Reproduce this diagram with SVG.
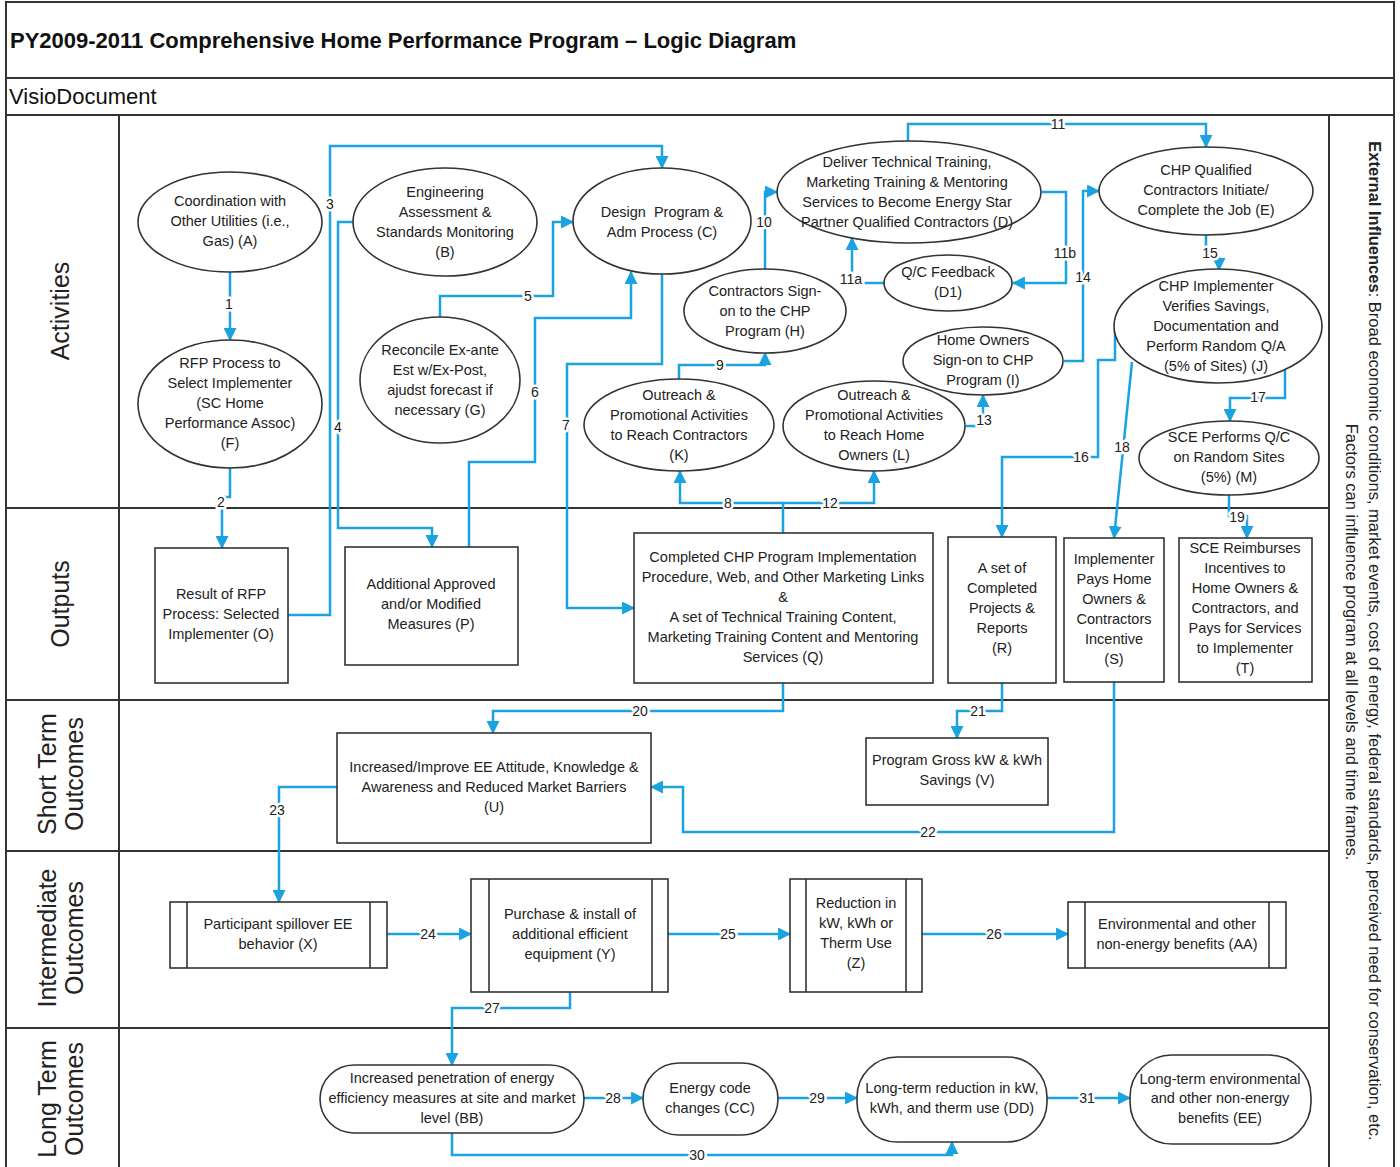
<svg xmlns="http://www.w3.org/2000/svg" width="1400" height="1167" viewBox="0 0 1400 1167">
<defs>
<style>
.frame{fill:none;stroke:#333;stroke-width:2}
.node{fill:#fff;stroke:#333;stroke-width:1.6}
.t{font-family:"Liberation Sans",Arial,sans-serif;font-size:14.5px;fill:#222;text-anchor:middle}
.c{fill:none;stroke:#1aa3e0;stroke-width:2.5;marker-end:url(#ah)}
.lbl{font-family:"Liberation Sans",Arial,sans-serif;font-size:14px;fill:#222;text-anchor:middle;stroke:#fff;stroke-width:5;paint-order:stroke;stroke-linejoin:round}
.lane{font-family:"Liberation Sans",Arial,sans-serif;font-size:25px;fill:#222;text-anchor:middle;dominant-baseline:central}
.ext{font-family:"Liberation Sans",Arial,sans-serif;font-size:16.5px;fill:#222;text-anchor:middle;dominant-baseline:central}
</style>
<marker id="ah" markerUnits="userSpaceOnUse" viewBox="0 0 12 12" refX="11" refY="6" markerWidth="13" markerHeight="13" orient="auto">
<path d="M0,0 L12,6 L0,12 z" fill="#1aa3e0"/>
</marker>
</defs>
<rect x="0" y="0" width="1400" height="1167" fill="#fff"/>

<g id="frame">
<rect class="frame" x="6" y="2" width="1388" height="1175"/>
<line class="frame" x1="6" y1="78" x2="1394" y2="78"/>
<line class="frame" x1="6" y1="115" x2="1394" y2="115"/>
<line class="frame" x1="119" y1="115" x2="119" y2="1167"/>
<line class="frame" x1="1329" y1="115" x2="1329" y2="1167"/>
<line class="frame" x1="6" y1="508" x2="1329" y2="508"/>
<line class="frame" x1="6" y1="700" x2="1329" y2="700"/>
<line class="frame" x1="6" y1="851" x2="1329" y2="851"/>
<line class="frame" x1="6" y1="1028" x2="1329" y2="1028"/>
<text x="10" y="48" font-family="Liberation Sans, Arial, sans-serif" font-size="22" font-weight="bold" fill="#111">PY2009-2011 Comprehensive Home Performance Program – Logic Diagram</text>
<text x="9" y="104" font-family="Liberation Sans, Arial, sans-serif" font-size="22" fill="#111">VisioDocument</text>
<text class="lane" transform="translate(60,311) rotate(-90)">Activities</text>
<text class="lane" transform="translate(60,604) rotate(-90)">Outputs</text>
<text class="lane" transform="translate(47,774) rotate(-90)">Short Term</text>
<text class="lane" transform="translate(74,774) rotate(-90)">Outcomes</text>
<text class="lane" transform="translate(47,938) rotate(-90)">Intermediate</text>
<text class="lane" transform="translate(74,938) rotate(-90)">Outcomes</text>
<text class="lane" transform="translate(47,1099) rotate(-90)">Long Term</text>
<text class="lane" transform="translate(74,1099) rotate(-90)">Outcomes</text>
<text class="ext" transform="translate(1375,641) rotate(90)"><tspan font-weight="bold">External Influences</tspan>: Broad economic conditions, market events, cost of energy, federal standards, perceived need for conservation, etc.</text>
<text class="ext" transform="translate(1352,642) rotate(90)">Factors can influence program at all levels and time frames.</text>
</g>

<g id="connectors">
<path class="c" d="M230,272 V340"/>
<path class="c" d="M230,468 V497 H222 V548"/>
<path class="c" d="M288,615 H330 V146 H662 V168"/>
<path class="c" d="M353,222 H338 V528 H432 V547"/>
<path class="c" d="M440,318 V296 H553 V222 H573"/>
<path class="c" d="M469,547 V462 H535 V318 H631 V272"/>
<path class="c" d="M662,274 V364 H567 V608 H634"/>
<path class="c" d="M783,533 V503 H680 V471"/>
<path class="c" d="M783,503 H874 V471"/>
<path class="c" d="M679,380 V365 H765 V353"/>
<path class="c" d="M765,270 V192 H777"/>
<path class="c" d="M908,141 V124 H1206 V147"/>
<path class="c" d="M884,283 H852 V238"/>
<path class="c" d="M1042,192 H1066 V283 H1013"/>
<path class="c" d="M966,426 H983 V395"/>
<path class="c" d="M1064,361 H1083 V191 H1099"/>
<path class="c" d="M1206,235 V258 H1219 V270"/>
<path class="c" d="M1115,328 V360 H1098 V457 H1002 V537"/>
<path class="c" d="M1285,370 V398 H1230 V421"/>
<path class="c" d="M1132,362 L1114,538"/>
<path class="c" d="M1229,495 V516 H1247 V538"/>
<path class="c" d="M783,683 V711 H493 V733"/>
<path class="c" d="M1002,683 V711 H957 V738"/>
<path class="c" d="M1114,682 V832 H683 V787 H651"/>
<path class="c" d="M337,787 H279 V902"/>
<path class="c" d="M387,934 H471"/>
<path class="c" d="M668,934 H790"/>
<path class="c" d="M922,934 H1068"/>
<path class="c" d="M570,992 V1008 H452 V1065"/>
<path class="c" d="M584,1098 H643"/>
<path class="c" d="M778,1098 H857"/>
<path class="c" d="M452,1133 V1155 H952 V1142"/>
<path class="c" d="M1047,1098 H1130"/>
<text class="lbl" x="229" y="309">1</text>
<text class="lbl" x="221" y="507">2</text>
<text class="lbl" x="330" y="209">3</text>
<text class="lbl" x="338" y="432">4</text>
<text class="lbl" x="528" y="301">5</text>
<text class="lbl" x="535" y="397">6</text>
<text class="lbl" x="566" y="430">7</text>
<text class="lbl" x="728" y="508">8</text>
<text class="lbl" x="720" y="370">9</text>
<text class="lbl" x="764" y="227">10</text>
<text class="lbl" x="1058" y="129">11</text>
<text class="lbl" x="851" y="284">11a</text>
<text class="lbl" x="1065" y="258">11b</text>
<text class="lbl" x="830" y="508">12</text>
<text class="lbl" x="984" y="425">13</text>
<text class="lbl" x="1083" y="282">14</text>
<text class="lbl" x="1210" y="258">15</text>
<text class="lbl" x="1081" y="462">16</text>
<text class="lbl" x="1258" y="402">17</text>
<text class="lbl" x="1122" y="452">18</text>
<text class="lbl" x="1237" y="522">19</text>
<text class="lbl" x="640" y="716">20</text>
<text class="lbl" x="978" y="716">21</text>
<text class="lbl" x="928" y="837">22</text>
<text class="lbl" x="277" y="815">23</text>
<text class="lbl" x="428" y="939">24</text>
<text class="lbl" x="728" y="939">25</text>
<text class="lbl" x="994" y="939">26</text>
<text class="lbl" x="492" y="1013">27</text>
<text class="lbl" x="613" y="1103">28</text>
<text class="lbl" x="817" y="1103">29</text>
<text class="lbl" x="697" y="1160">30</text>
<text class="lbl" x="1087" y="1103">31</text>
</g>

<g id="A"><ellipse class="node" cx="230" cy="222" rx="92" ry="50"/>
<text class="t"><tspan x="230" y="206">Coordination with</tspan><tspan x="230" y="226">Other Utilities (i.e.,</tspan><tspan x="230" y="246">Gas) (A)</tspan></text></g>
<g id="F"><ellipse class="node" cx="230" cy="404" rx="92" ry="64"/>
<text class="t"><tspan x="230" y="368">RFP Process to</tspan><tspan x="230" y="388">Select Implementer</tspan><tspan x="230" y="408">(SC Home</tspan><tspan x="230" y="428">Performance Assoc)</tspan><tspan x="230" y="448">(F)</tspan></text></g>
<g id="B"><ellipse class="node" cx="445" cy="222" rx="92" ry="54"/>
<text class="t"><tspan x="445" y="197">Engineering</tspan><tspan x="445" y="217">Assessment &amp;</tspan><tspan x="445" y="237">Standards Monitoring</tspan><tspan x="445" y="257">(B)</tspan></text></g>
<g id="G"><ellipse class="node" cx="440" cy="380" rx="80" ry="63"/>
<text class="t"><tspan x="440" y="355">Reconcile Ex-ante</tspan><tspan x="440" y="375">Est w/Ex-Post,</tspan><tspan x="440" y="395">ajudst forecast if</tspan><tspan x="440" y="415">necessary (G)</tspan></text></g>
<g id="C"><ellipse class="node" cx="662" cy="221" rx="89" ry="53"/>
<text class="t"><tspan x="662" y="217">Design&#160; Program &amp;</tspan><tspan x="662" y="237">Adm Process (C)</tspan></text></g>
<g id="D"><ellipse class="node" cx="909" cy="192" rx="132" ry="51"/>
<text class="t"><tspan x="907" y="167">Deliver Technical Training,</tspan><tspan x="907" y="187">Marketing Training &amp; Mentoring</tspan><tspan x="907" y="207">Services to Become Energy Star</tspan><tspan x="907" y="227">Partner Qualified Contractors (D)</tspan></text></g>
<g id="H"><ellipse class="node" cx="765" cy="311" rx="81" ry="42"/>
<text class="t"><tspan x="765" y="296">Contractors Sign-</tspan><tspan x="765" y="316">on to the CHP</tspan><tspan x="765" y="336">Program (H)</tspan></text></g>
<g id="D1"><ellipse class="node" cx="948" cy="283" rx="64" ry="28"/>
<text class="t"><tspan x="948" y="277">Q/C Feedback</tspan><tspan x="948" y="297">(D1)</tspan></text></g>
<g id="I"><ellipse class="node" cx="983" cy="361" rx="80" ry="34"/>
<text class="t"><tspan x="983" y="345">Home Owners</tspan><tspan x="983" y="365">Sign-on to CHP</tspan><tspan x="983" y="385">Program (I)</tspan></text></g>
<g id="K"><ellipse class="node" cx="679" cy="425" rx="95" ry="46"/>
<text class="t"><tspan x="679" y="400">Outreach &amp;</tspan><tspan x="679" y="420">Promotional Activities</tspan><tspan x="679" y="440">to Reach Contractors</tspan><tspan x="679" y="460">(K)</tspan></text></g>
<g id="L"><ellipse class="node" cx="874" cy="426" rx="91" ry="45"/>
<text class="t"><tspan x="874" y="400">Outreach &amp;</tspan><tspan x="874" y="420">Promotional Activities</tspan><tspan x="874" y="440">to Reach Home</tspan><tspan x="874" y="460">Owners (L)</tspan></text></g>
<g id="E"><ellipse class="node" cx="1206" cy="191" rx="107" ry="44"/>
<text class="t"><tspan x="1206" y="175">CHP Qualified</tspan><tspan x="1206" y="195">Contractors Initiate/</tspan><tspan x="1206" y="215">Complete the Job (E)</tspan></text></g>
<g id="J"><ellipse class="node" cx="1218" cy="326" rx="104" ry="57"/>
<text class="t"><tspan x="1216" y="291">CHP Implementer</tspan><tspan x="1216" y="311">Verifies Savings,</tspan><tspan x="1216" y="331">Documentation and</tspan><tspan x="1216" y="351">Perform Random Q/A</tspan><tspan x="1216" y="371">(5% of Sites) (J)</tspan></text></g>
<g id="M"><ellipse class="node" cx="1229" cy="458" rx="90" ry="37"/>
<text class="t"><tspan x="1229" y="442">SCE Performs Q/C</tspan><tspan x="1229" y="462">on Random Sites</tspan><tspan x="1229" y="482">(5%) (M)</tspan></text></g>

<g id="O"><rect class="node" x="155" y="548" width="133" height="135"/>
<text class="t"><tspan x="221" y="599">Result of RFP</tspan><tspan x="221" y="619">Process: Selected</tspan><tspan x="221" y="639">Implementer (O)</tspan></text></g>
<g id="P"><rect class="node" x="345" y="547" width="173" height="118"/>
<text class="t"><tspan x="431" y="589">Additional Approved</tspan><tspan x="431" y="609">and/or Modified</tspan><tspan x="431" y="629">Measures (P)</tspan></text></g>
<g id="Q"><rect class="node" x="634" y="533" width="299" height="150"/>
<text class="t"><tspan x="783" y="562">Completed CHP Program Implementation</tspan><tspan x="783" y="582">Procedure, Web, and Other Marketing Links</tspan><tspan x="783" y="602">&amp;</tspan><tspan x="783" y="622">A set of Technical Training Content,</tspan><tspan x="783" y="642">Marketing Training Content and Mentoring</tspan><tspan x="783" y="662">Services (Q)</tspan></text></g>
<g id="R"><rect class="node" x="948" y="537" width="108" height="146"/>
<text class="t"><tspan x="1002" y="573">A set of</tspan><tspan x="1002" y="593">Completed</tspan><tspan x="1002" y="613">Projects &amp;</tspan><tspan x="1002" y="633">Reports</tspan><tspan x="1002" y="653">(R)</tspan></text></g>
<g id="S"><rect class="node" x="1064" y="538" width="100" height="144"/>
<text class="t"><tspan x="1114" y="564">Implementer</tspan><tspan x="1114" y="584">Pays Home</tspan><tspan x="1114" y="604">Owners &amp;</tspan><tspan x="1114" y="624">Contractors</tspan><tspan x="1114" y="644">Incentive</tspan><tspan x="1114" y="664">(S)</tspan></text></g>
<g id="T"><rect class="node" x="1179" y="538" width="133" height="144"/>
<text class="t"><tspan x="1245" y="553">SCE Reimburses</tspan><tspan x="1245" y="573">Incentives to</tspan><tspan x="1245" y="593">Home Owners &amp;</tspan><tspan x="1245" y="613">Contractors, and</tspan><tspan x="1245" y="633">Pays for Services</tspan><tspan x="1245" y="653">to Implementer</tspan><tspan x="1245" y="673">(T)</tspan></text></g>

<g id="U"><rect class="node" x="337" y="733" width="314" height="110"/>
<text class="t"><tspan x="494" y="772">Increased/Improve EE Attitude, Knowledge &amp;</tspan><tspan x="494" y="792">Awareness and Reduced Market Barriers</tspan><tspan x="494" y="812">(U)</tspan></text></g>
<g id="V"><rect class="node" x="866" y="738" width="182" height="67"/>
<text class="t"><tspan x="957" y="765">Program Gross kW &amp; kWh</tspan><tspan x="957" y="785">Savings (V)</tspan></text></g>

<g id="X"><rect class="node" x="170" y="902" width="217" height="66"/>
<line class="node" x1="187" y1="902" x2="187" y2="968"/><line class="node" x1="370" y1="902" x2="370" y2="968"/>
<text class="t"><tspan x="278" y="929">Participant spillover EE</tspan><tspan x="278" y="949">behavior (X)</tspan></text></g>
<g id="Y"><rect class="node" x="471" y="879" width="197" height="113"/>
<line class="node" x1="489" y1="879" x2="489" y2="992"/><line class="node" x1="652" y1="879" x2="652" y2="992"/>
<text class="t"><tspan x="570" y="919">Purchase &amp; install of</tspan><tspan x="570" y="939">additional efficient</tspan><tspan x="570" y="959">equipment (Y)</tspan></text></g>
<g id="Z"><rect class="node" x="790" y="879" width="132" height="113"/>
<line class="node" x1="806" y1="879" x2="806" y2="992"/><line class="node" x1="906" y1="879" x2="906" y2="992"/>
<text class="t"><tspan x="856" y="908">Reduction in</tspan><tspan x="856" y="928">kW, kWh or</tspan><tspan x="856" y="948">Therm Use</tspan><tspan x="856" y="968">(Z)</tspan></text></g>
<g id="AA"><rect class="node" x="1068" y="902" width="218" height="66"/>
<line class="node" x1="1085" y1="902" x2="1085" y2="968"/><line class="node" x1="1269" y1="902" x2="1269" y2="968"/>
<text class="t"><tspan x="1177" y="929">Environmental and other</tspan><tspan x="1177" y="949">non-energy benefits (AA)</tspan></text></g>

<g id="BB"><rect class="node" x="320" y="1065" width="264" height="68" rx="34" ry="34"/>
<text class="t"><tspan x="452" y="1083">Increased penetration of energy</tspan><tspan x="452" y="1103">efficiency measures at site and market</tspan><tspan x="452" y="1123">level (BB)</tspan></text></g>
<g id="CC"><rect class="node" x="643" y="1063" width="135" height="72" rx="36" ry="36"/>
<text class="t"><tspan x="710" y="1093">Energy code</tspan><tspan x="710" y="1113">changes (CC)</tspan></text></g>
<g id="DD"><rect class="node" x="857" y="1057" width="190" height="85" rx="40" ry="40"/>
<text class="t"><tspan x="952" y="1093">Long-term reduction in kW,</tspan><tspan x="952" y="1113">kWh, and therm use (DD)</tspan></text></g>
<g id="EE"><rect class="node" x="1130" y="1055" width="181" height="89" rx="42" ry="42"/>
<text class="t"><tspan x="1220" y="1084">Long-term environmental</tspan><tspan x="1220" y="1103">and other non-energy</tspan><tspan x="1220" y="1123">benefits (EE)</tspan></text></g>
</svg>
